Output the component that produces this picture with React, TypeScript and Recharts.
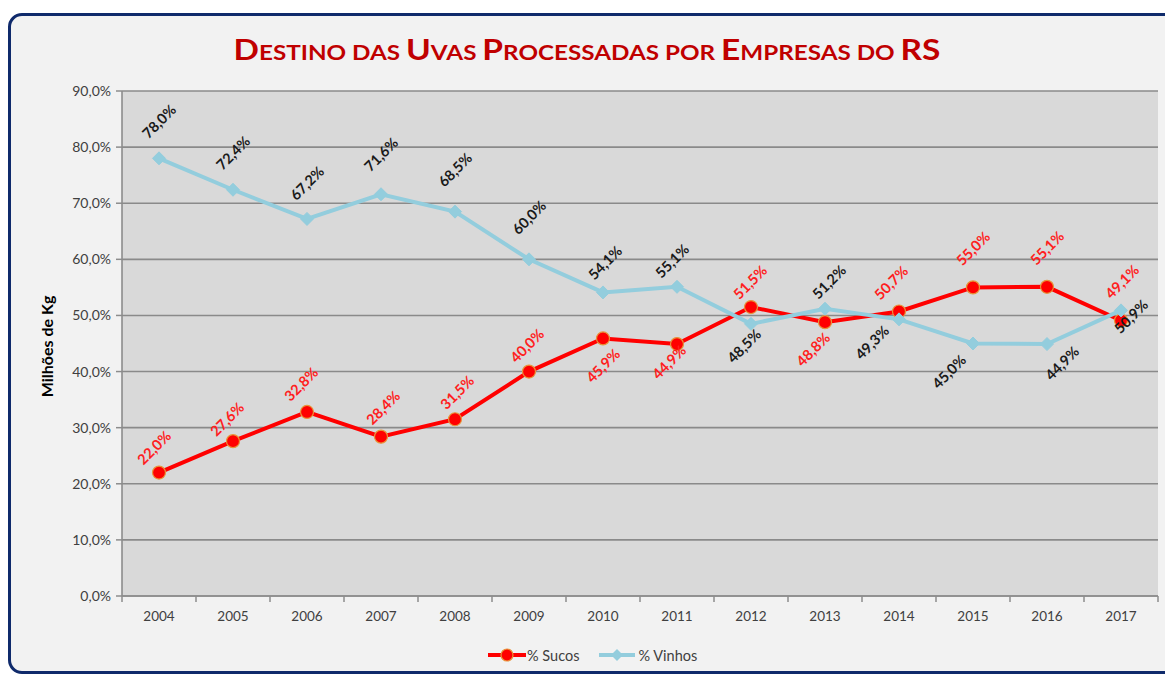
import React from 'react';
import { LineChart, Line, XAxis, YAxis, CartesianGrid, LabelList } from 'recharts';

const years = ['2004', '2005', '2006', '2007', '2008', '2009', '2010', '2011', '2012', '2013', '2014', '2015', '2016', '2017'];
const sucos = [22.0, 27.6, 32.8, 28.4, 31.5, 40.0, 45.9, 44.9, 51.5, 48.8, 50.7, 55.0, 55.1, 49.1];
const vinhos = [78.0, 72.4, 67.2, 71.6, 68.5, 60.0, 54.1, 55.1, 48.5, 51.2, 49.3, 45.0, 44.9, 50.9];
const yTicks = [0, 10, 20, 30, 40, 50, 60, 70, 80, 90];

const TITLE = 'Destino das Uvas Processadas por Empresas do RS';
const Y_LABEL = 'Milhões de Kg';
const SUCOS_NAME = '% Sucos';
const VINHOS_NAME = '% Vinhos';

// label placement (offset of the rotated label centre from its point)
const sucosLabelOffsets: [number, number][] = [
  [-5, -25], [-6, -22], [-6, -28], [2, -29], [2, -27], [-2, -26], [0, 27],
  [-8, 18], [-1, -25], [-12, 27], [-8, -29], [0, -39], [0, -39], [1, -39],
];
const vinhosLabelOffsets: [number, number][] = [
  [0, -37], [0, -37], [0, -36], [0, -40], [0, -42], [0, -42], [2, -30],
  [-5, -26], [-7, 22], [4, -27], [-27, 23], [-24, 28], [15, 19], [10, 6],
];

const data = years.map((year, i) => ({ year, sucos: sucos[i], vinhos: vinhos[i] }));

const FONT = "Lato, 'Open Sans', sans-serif";
const W = 1165;
const H = 675;
const MARGIN = { top: 91, right: 7, left: 0, bottom: 49 };
const Y_W = 122;
const BAND = (W - MARGIN.left - MARGIN.right - Y_W) / years.length;
const TICK_SIZE = 6;
const TICK_MARGIN = 9;

const RED = '#ff0000';
const BLUE = '#93cddd';

const fmt = (v: number) => v.toFixed(1).replace('.', ',') + '%';

const makeLabel = (offsets: [number, number][], color: string) => (props: any) => {
  const { x, y, value, index } = props;
  const off = offsets[index] || [0, -30];
  const cx = x + off[0];
  const cy = y + off[1];
  return (
    <text
      key={`lbl-${index}`}
      x={cx}
      y={cy}
      transform={`rotate(-45 ${cx} ${cy})`}
      textAnchor="middle"
      dominantBaseline="central"
      fill={color}
      fontFamily={FONT}
      fontWeight={700}
      fontSize={14.5}
    >
      {fmt(Number(value))}
    </text>
  );
};

const CircleDot = (props: any) => {
  const { cx, cy, index } = props;
  if (cx == null || cy == null) return <g key={`c-${index}`} />;
  return <circle key={`c-${index}`} cx={cx} cy={cy} r={6.5} fill={RED} stroke="#e8953a" strokeWidth={1.2} />;
};

const DiamondDot = (props: any) => {
  const { cx, cy, index } = props;
  if (cx == null || cy == null) return <g key={`d-${index}`} />;
  const s = 6.5;
  return (
    <path
      key={`d-${index}`}
      d={`M${cx},${cy - s}L${cx + s},${cy}L${cx},${cy + s}L${cx - s},${cy}Z`}
      fill={BLUE}
      stroke={BLUE}
      strokeWidth={1}
    />
  );
};

const XTick = (props: any) => {
  const { x, y, payload, index, visibleTicksCount } = props;
  const axisY = y - TICK_SIZE - TICK_MARGIN;
  const left = x - BAND / 2;
  const right = x + BAND / 2;
  return (
    <g>
      <line x1={left} y1={axisY} x2={left} y2={axisY + TICK_SIZE} stroke="#8c8c8c" strokeWidth={1.5} />
      {index === visibleTicksCount - 1 && (
        <line x1={right} y1={axisY} x2={right} y2={axisY + TICK_SIZE} stroke="#8c8c8c" strokeWidth={1.5} />
      )}
      <text x={x} y={y} dy="0.71em" textAnchor="middle" fill="#404040" fontFamily={FONT} fontSize={13.5}>
        {payload.value}
      </text>
    </g>
  );
};

const YLabel = (props: any) => {
  const { viewBox } = props;
  const cx = 46;
  const cy = viewBox.y + viewBox.height / 2 + 3;
  return (
    <text
      x={cx}
      y={cy}
      transform={`rotate(-90 ${cx} ${cy})`}
      textAnchor="middle"
      dominantBaseline="central"
      fill="#000"
      fontFamily={FONT}
      fontWeight={700}
      fontSize={16}
    >
      {Y_LABEL}
    </text>
  );
};

const Title = () => {
  const words = TITLE.split(' ');
  const parts: { t: string; big: boolean }[] = [];
  words.forEach((w, wi) => {
    for (const ch of w) {
      const big = ch === ch.toUpperCase();
      const last = parts[parts.length - 1];
      if (last && last.big === big) last.t += ch.toUpperCase();
      else parts.push({ t: ch.toUpperCase(), big });
    }
    if (wi < words.length - 1) {
      const last = parts[parts.length - 1];
      last.t += ' ';
    }
  });
  return (
    <svg width={W} height={80} style={{ position: 'absolute', left: 0, top: 0 }}>
      <text
        x={587}
        y={60}
        textAnchor="middle"
        fill="#c00000"
        fontFamily={FONT}
        fontWeight={700}
        textLength={707}
        lengthAdjust="spacingAndGlyphs"
        style={{ whiteSpace: 'pre' }}
      >
        {parts.map((p, i) => (
          <tspan key={i} fontSize={p.big ? 29 : 21}>
            {p.t}
          </tspan>
        ))}
      </text>
    </svg>
  );
};

const Legend = () => (
  <div
    style={{
      position: 'absolute',
      top: 645,
      left: 486,
      display: 'flex',
      alignItems: 'center',
      fontFamily: FONT,
      fontSize: 14.5,
      color: '#404040',
      height: 20,
    }}
  >
    <svg width={40} height={20}>
      <line x1={2} y1={10} x2={40} y2={10} stroke={RED} strokeWidth={4} />
      <circle cx={21} cy={10} r={6} fill={RED} stroke="#e8953a" strokeWidth={1.2} />
    </svg>
    <span style={{ marginLeft: 1 }}>{SUCOS_NAME}</span>
    <svg width={40} height={20} style={{ marginLeft: 18 }}>
      <line x1={2} y1={10} x2={38} y2={10} stroke={BLUE} strokeWidth={4} />
      <path d="M20,4L26,10L20,16L14,10Z" fill={BLUE} />
    </svg>
    <span style={{ marginLeft: 1 }}>{VINHOS_NAME}</span>
  </div>
);

export default function App() {
  return (
    <div
      style={{
        position: 'absolute',
        left: 0,
        top: 0,
        width: W,
        height: H,
        overflow: 'hidden',
        background: '#ffffff',
      }}
    >
      <div
        style={{
          position: 'absolute',
          left: 8,
          top: 13,
          width: 1175,
          height: 655,
          border: '3px solid #0f2a6b',
          borderRadius: 14,
          background: '#f2f2f2',
        }}
      />
      <Title />
      <div style={{ position: 'absolute', left: 0, top: 0 }}>
        <LineChart width={W} height={H} data={data} margin={MARGIN}>
          <CartesianGrid vertical={false} horizontal fill="#d9d9d9" stroke="#8a8a8a" strokeWidth={1.6} />
          <XAxis
            dataKey="year"
            height={30}
            tickSize={TICK_SIZE}
            tickMargin={TICK_MARGIN}
            tickLine={false}
            padding={{ left: BAND / 2, right: BAND / 2 }}
            axisLine={{ stroke: '#8c8c8c', strokeWidth: 1.6 }}
            tick={<XTick />}
            interval={0}
          />
          <YAxis
            width={Y_W}
            domain={[0, 90]}
            ticks={yTicks}
            tickFormatter={fmt}
            tickSize={TICK_SIZE}
            tickMargin={5}
            tickLine={{ stroke: '#8c8c8c', strokeWidth: 1.5 }}
            axisLine={{ stroke: '#8c8c8c', strokeWidth: 1.6 }}
            tick={{ fill: '#404040', fontFamily: FONT, fontSize: 14 }}
            interval={0}
            label={<YLabel />}
          />
          <Line
            type="linear"
            dataKey="sucos"
            name={SUCOS_NAME}
            stroke={RED}
            strokeWidth={4}
            dot={<CircleDot />}
            activeDot={false}
            isAnimationActive={false}
          >
            <LabelList dataKey="sucos" content={makeLabel(sucosLabelOffsets, '#ff2020')} />
          </Line>
          <Line
            type="linear"
            dataKey="vinhos"
            name={VINHOS_NAME}
            stroke={BLUE}
            strokeWidth={4}
            dot={<DiamondDot />}
            activeDot={false}
            isAnimationActive={false}
          >
            <LabelList dataKey="vinhos" content={makeLabel(vinhosLabelOffsets, '#1a1a1a')} />
          </Line>
        </LineChart>
      </div>
      <Legend />
    </div>
  );
}
